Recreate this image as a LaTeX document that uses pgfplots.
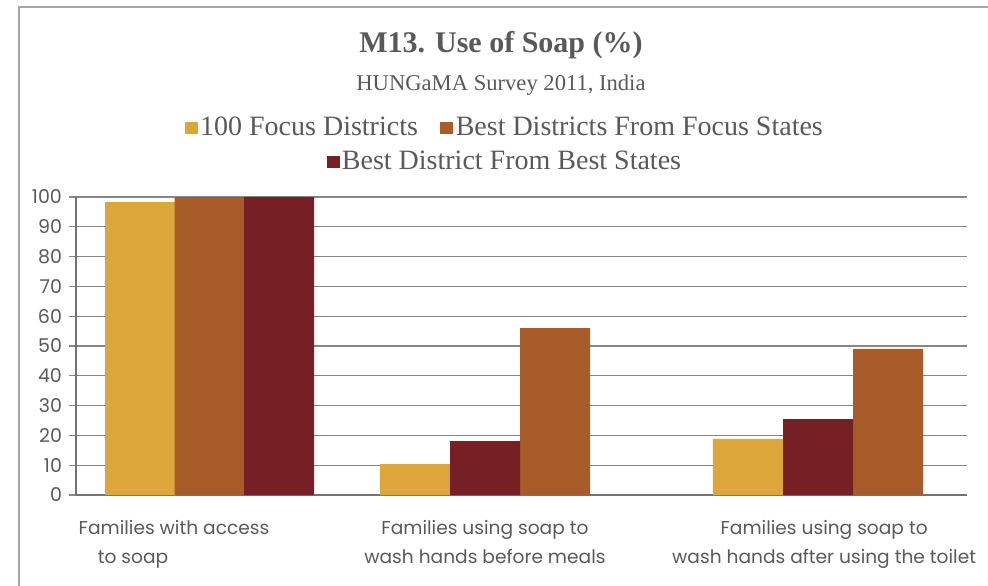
\documentclass[border=0pt]{standalone}
\usepackage{pgfplots}
\pgfplotsset{compat=1.18}
\usepackage{fontspec}
\setmainfont{Liberation Serif}
\newfontfamily\tickfont{Poppins}

\definecolor{focusorange}{RGB}{221,166,58}
\definecolor{focusbrown}{RGB}{168,92,41}
\definecolor{bestred}{RGB}{118,31,36}
\definecolor{txtgray}{RGB}{89,89,89}
\definecolor{gridgray}{RGB}{134,134,134}
\definecolor{framegray}{RGB}{165,165,165}

\pgfplotsset{
    sqlegend/.style={
        legend image code/.code={\draw[##1,draw=none] (0pt,-3pt) rectangle (6.5pt,3pt);},
        legend style={draw=none, fill=none, text=txtgray,
            font=\fontsize{14}{16}\selectfont,
            nodes={inner xsep=1.2pt},
            /tikz/every even column/.append style={column sep=10pt}},
    },
}

\begin{document}
\begin{tikzpicture}
\path[use as bounding box] (-38pt,-45pt) rectangle (456pt,247.5pt);
\draw[framegray, line width=0.7pt] (-28.5pt,-46pt) -- (-28.5pt,244pt) -- (457pt,244pt);

\node[anchor=base, text=txtgray, font=\fontsize{15}{18}\selectfont\bfseries]
    at (212.5pt,221.5pt) {M13. Use of Soap (\%)};
\node[anchor=base, text=txtgray, font=\fontsize{11.3}{13}\selectfont]
    at (212.5pt,202.5pt) {HUNGaMA Survey 2011, India};

\begin{axis}[
    at={(0pt,0pt)}, anchor=south west,
    scale only axis, width=445.5pt, height=149pt,
    ybar, bar width=0.2357,
    xmin=0, xmax=3, ymin=0, ymax=100,
    enlargelimits=false,
    axis x line*=bottom, axis y line*=left,
    axis line style={draw=gridgray!85!black, line width=0.6pt},
    ymajorgrids, grid style={gridgray, line width=0.6pt},
    ytick={0,10,...,100},
    ytick style={gridgray, line width=0.6pt},
    tick align=outside, major tick length=3.5pt,
    xtick={0.330,1.377,2.519},
    xtick style={draw=none},
    xticklabels={
        {Families with access\\\hspace*{-41pt}to soap},
        {Families using soap to\\wash hands before meals},
        {Families using soap to\\wash hands after using the toilet}},
    xticklabel style={align=center, text=txtgray,
        font=\tickfont\fontsize{9.3}{14.5}\selectfont, yshift=-5.5pt},
    yticklabel style={text=txtgray, font=\tickfont\fontsize{9.5}{11}\selectfont},
    /pgf/number format/assume math mode=true,
    sqlegend,
    legend columns=2,
    legend style={at={(0.4815,1.2315)}, anchor=center},
]
\addplot[fill=focusorange, draw=none, bar shift=0pt] coordinates {
    (0.2155,98.3) (1.1414,10.4) (2.2626,18.8)};
\addplot[fill=focusbrown, draw=none, bar shift=0pt] coordinates {
    (0.4495,100) (1.6128,56) (2.7340,49)};
\addplot[fill=bestred, draw=none, bar shift=0pt] coordinates {
    (0.6835,100) (1.3771,18.1) (2.4983,25.5)};
\legend{100 Focus Districts, Best Districts From Focus States}
\end{axis}

\begin{axis}[
    at={(0pt,0pt)}, anchor=south west,
    scale only axis, width=445.5pt, height=149pt,
    hide axis, xmin=0, xmax=1, ymin=0, ymax=1,
    sqlegend,
    legend style={at={(0.4815,1.1174)}, anchor=center},
]
\addlegendimage{fill=bestred, draw=none}
\addlegendentry{Best District From Best States}
\end{axis}
\end{tikzpicture}
\end{document}
